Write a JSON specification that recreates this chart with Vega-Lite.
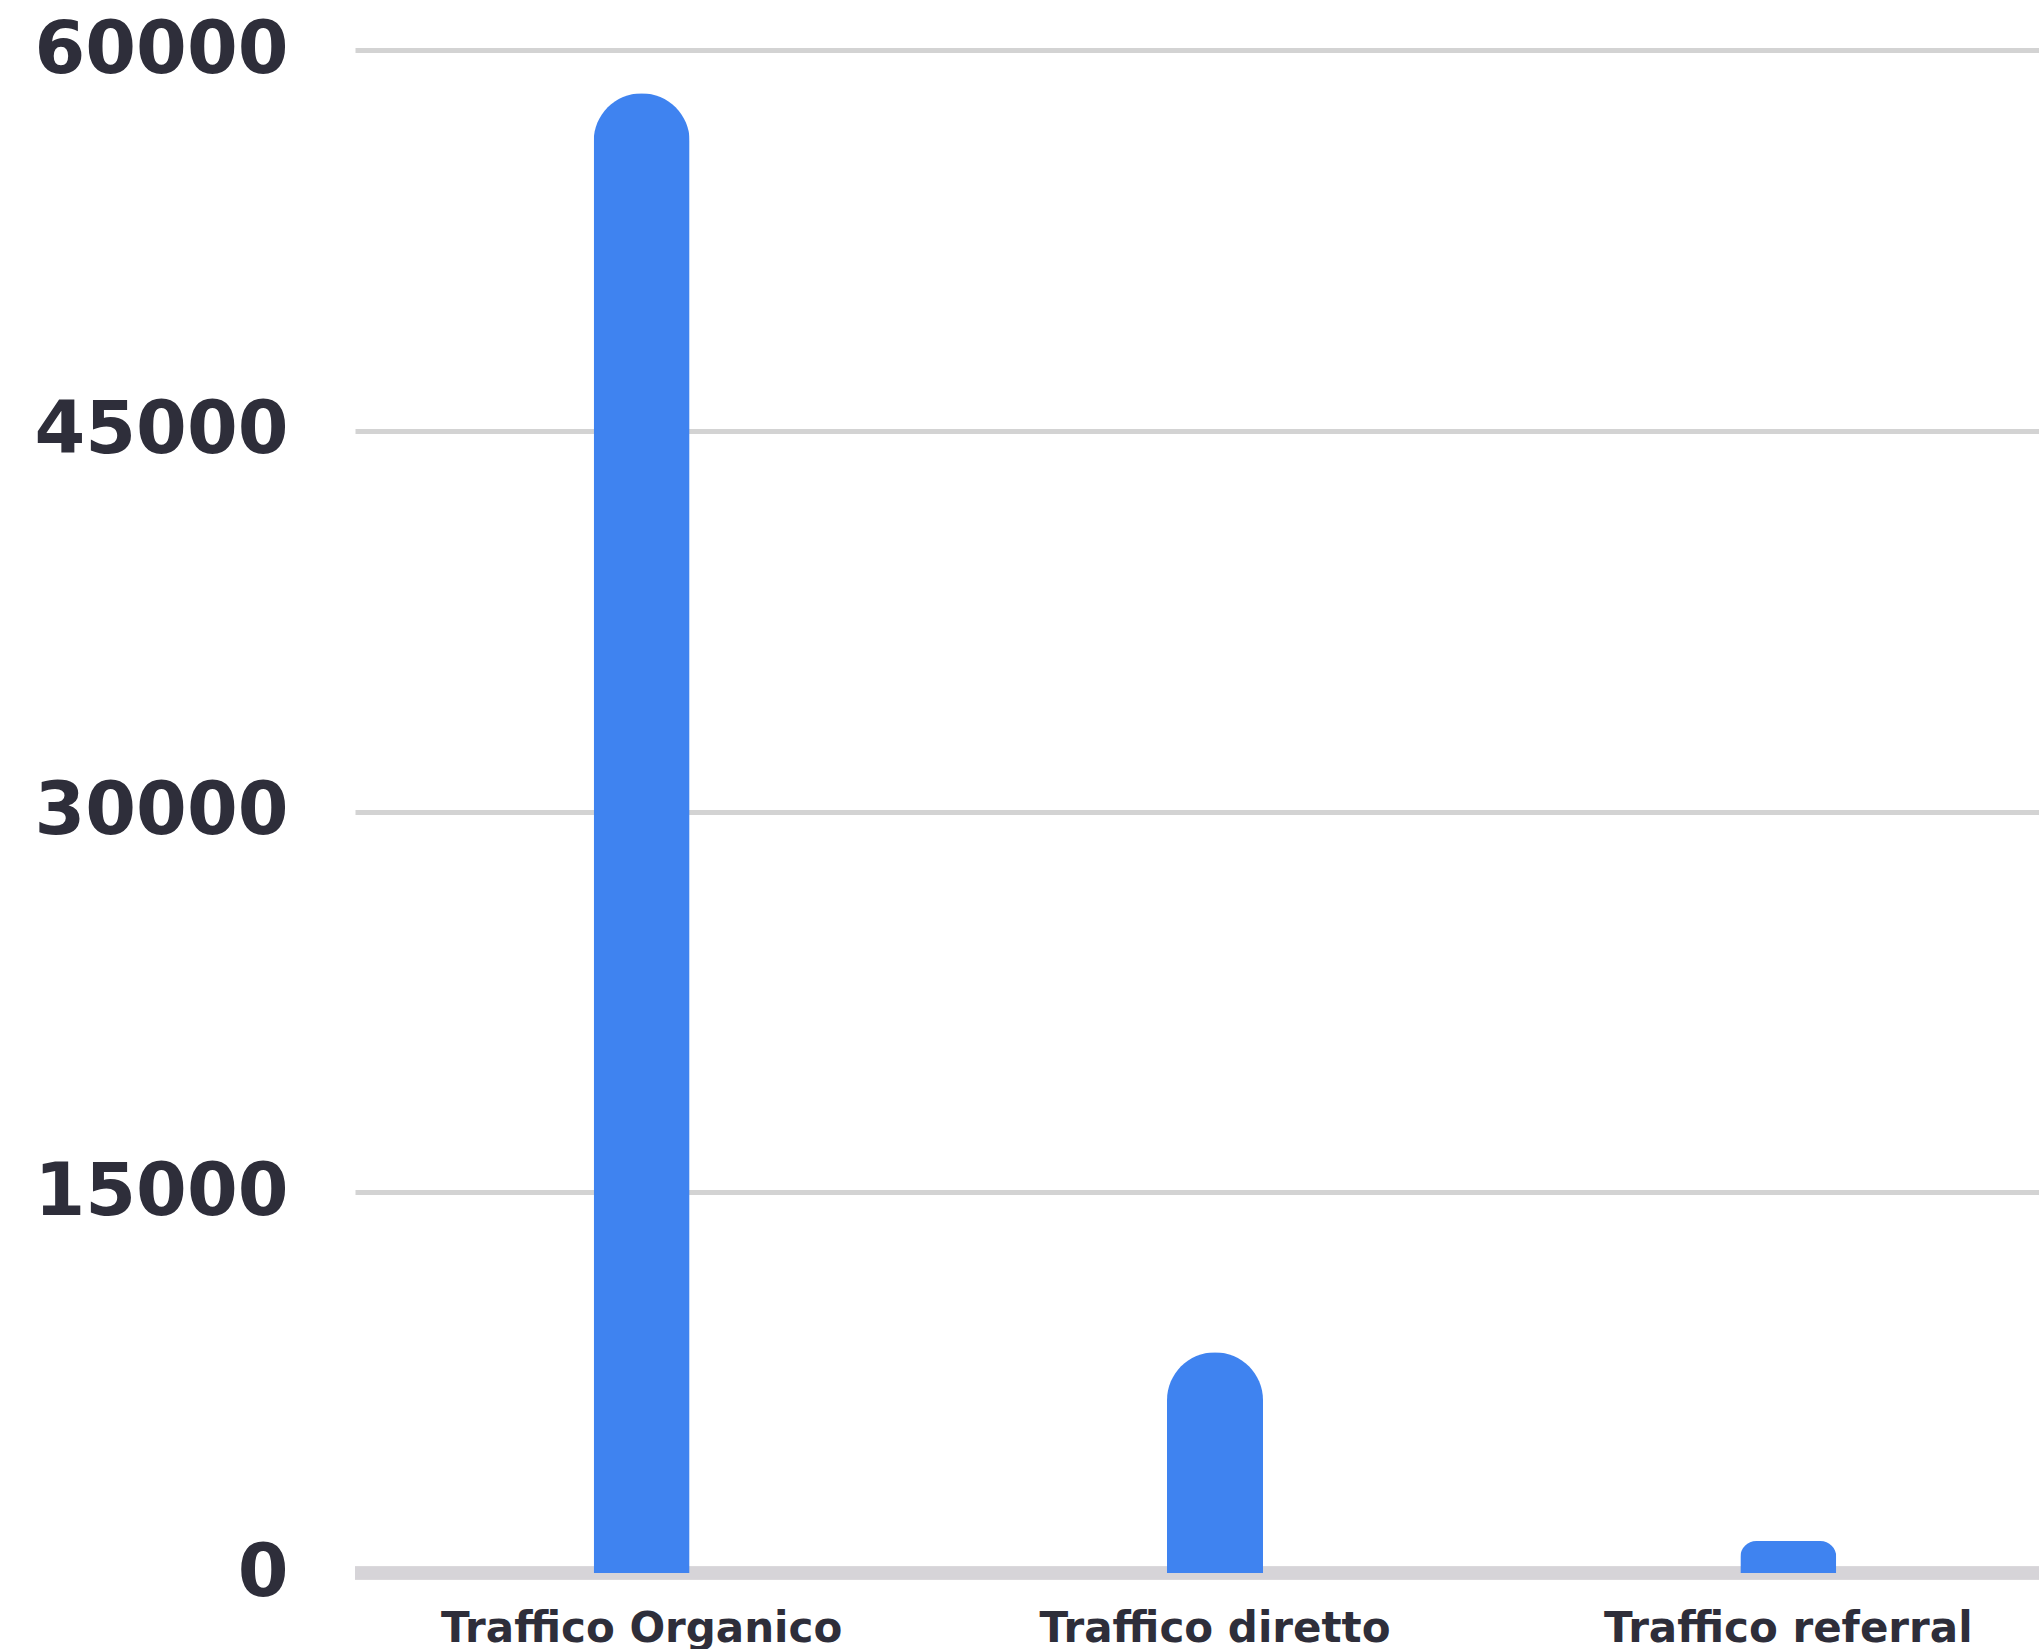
{
  "$schema": "https://vega.github.io/schema/vega-lite/v6.json",
  "autosize": "none",
  "padding": {"left": 355, "top": 50, "right": 0, "bottom": 76},
  "width": 1720,
  "height": 1523,
  "background": "#ffffff",
  "config": {"view": {"stroke": null}},
  "data": {"values": [
    {"canale": "Traffico Organico", "visite": 58300},
    {"canale": "Traffico diretto", "visite": 8700},
    {"canale": "Traffico referral", "visite": 1260}
  ]},
  "layer": [
    {
      "mark": {"type": "rule", "color": "#d6d4d8", "strokeWidth": 13},
      "encoding": {"y": {"datum": 0, "type": "quantitative",
          "scale": {"domain": [0, 60000], "nice": false},
          "axis": {"title": null, "domain": false, "ticks": false, "grid": true, "values": [0, 15000, 30000, 45000, 60000],
                   "format": "d", "labelLimit": 0, "labelFont": "DejaVu Sans", "labelFontWeight": "bold", "labelFontSize": 73,
                   "labelColor": "#2e2e3a", "labelPadding": 67, "labelBaseline": "middle", "labelDy": 9,
                   "gridColor": "#d3d3d3", "gridWidth": 5}}}
    },
    {
      "mark": {"type": "bar", "color": "#3f83f0", "size": 96, "cornerRadiusTopLeft": 48, "cornerRadiusTopRight": 48},
      "encoding": {
        "x": {
          "field": "canale", "type": "nominal", "sort": null,
          "scale": {"paddingInner": 0, "paddingOuter": 0},
          "axis": {"title": null, "domain": false, "ticks": false, "labelAngle": 0, "labelLimit": 0,
                   "labelFont": "DejaVu Sans", "labelFontWeight": "bold", "labelFontSize": 42,
                   "labelColor": "#2e2e3a", "labelPadding": 35, "labelBaseline": "top"}
        },
        "y": {
          "field": "visite", "type": "quantitative",
          "scale": {"domain": [0, 60000], "nice": false},
          "axis": {"title": null, "domain": false, "ticks": false, "grid": true, "values": [0, 15000, 30000, 45000, 60000],
                   "format": "d", "labelLimit": 0, "labelFont": "DejaVu Sans", "labelFontWeight": "bold", "labelFontSize": 73,
                   "labelColor": "#2e2e3a", "labelPadding": 67, "labelBaseline": "middle", "labelDy": 9,
                   "gridColor": "#d3d3d3", "gridWidth": 5}
        }
      }
    }
  ]
}
